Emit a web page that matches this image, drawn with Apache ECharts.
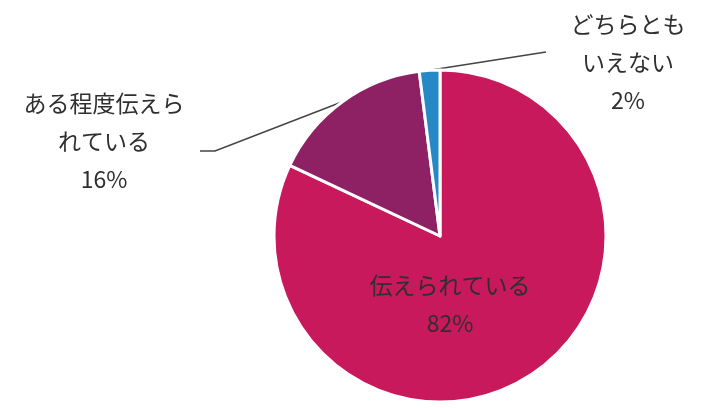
<!DOCTYPE html>
<html><head><meta charset="utf-8">
<script src="https://cdn.jsdelivr.net/npm/echarts@6/dist/echarts.min.js"></script>
<style>html,body{margin:0;padding:0;background:#fff}#c{width:709px;height:408px}</style>
</head><body><div id="c"></div>
<script>
const categories = ['伝えられている', 'ある程度伝えら\nれている', 'どちらとも\nいえない'];
const values = [82, 16, 2];
const colors = ['#C8195C', '#8E2064', '#2688C4'];
// label anchor positions (label centers) in px
const labelPos = [[450, 304], [104, 141], [628, 62]];
// leader line bends/ends (after the slice-edge start point)
const linePts = [null, [[215, 151], [200, 151]], [[546, 52], [546, 52]]];

const chart = echarts.init(document.getElementById('c'));
chart.setOption({
  animation: false,
  series: [{
    type: 'pie',
    center: [440, 236],
    radius: 166,
    startAngle: 90,
    clockwise: true,
    itemStyle: { borderColor: '#fff', borderWidth: 3 },
    label: {
      formatter: p => p.name + '\n' + p.value + '%',
      fontFamily: 'Noto Sans CJK JP',
      fontSize: 23,
      lineHeight: 38,
      color: '#2f2f2f',
      align: 'center'
    },
    labelLine: { show: true, lineStyle: { color: '#444', width: 1.5 }, length: 20, length2: 20 },
    labelLayout: p => {
      const out = {
        x: labelPos[p.dataIndex][0],
        y: labelPos[p.dataIndex][1],
        align: 'center',
        verticalAlign: 'middle'
      };
      if (linePts[p.dataIndex] && p.labelLinePoints) {
        out.labelLinePoints = [p.labelLinePoints[0]].concat(linePts[p.dataIndex]);
      }
      return out;
    },
    data: values.map((v, i) => ({
      name: categories[i],
      value: v,
      itemStyle: { color: colors[i] },
      label: i === 0 ? { position: 'inside' } : { position: 'outside' },
      labelLine: { show: i !== 0 }
    }))
  }]
});
</script></body></html>
